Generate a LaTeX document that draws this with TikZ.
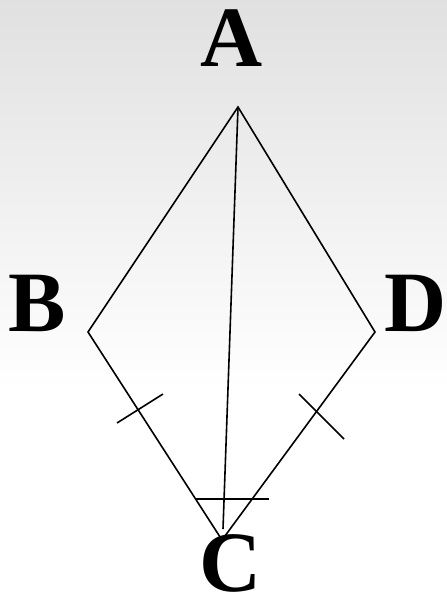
\documentclass[tikz,border=0pt]{standalone}
\usepackage{fontspec}
\setmainfont{Liberation Serif}
\begin{document}
\begin{tikzpicture}[x=1pt,y=-1pt,
  edge/.style={line width=1.6pt,black},
  lbl/.style={font=\fontsize{86}{86}\selectfont\bfseries,inner sep=0pt,anchor=base}]
\useasboundingbox (0,0) rectangle (447,600);
\shade[top color=black!12,bottom color=white] (0,0) rectangle (447,390);
\fill[white] (0,390) rectangle (447,600);
\coordinate (A) at (238,107);
\coordinate (B) at (88,332);
\coordinate (C) at (222,540);
\coordinate (D) at (375,332);
\coordinate (Cend) at (223,529);
\coordinate (t1a) at (117,423);
\coordinate (t1b) at (163,394);
\coordinate (t2a) at (299,394);
\coordinate (t2b) at (344,439);
\coordinate (h1) at (195,499);
\coordinate (h2) at (269,499);
\draw[edge,line join=miter] (A) -- (B) -- (C) -- (D) -- cycle;
\draw[edge] (A) -- (Cend);
\draw[edge] (t1a) -- (t1b);
\draw[edge] (t2a) -- (t2b);
\draw[edge] (h1) -- (h2);
\node[lbl] (lA) at (232,66) {A};
\node[lbl] (lB) at (37,331) {B};
\node[lbl] (lD) at (416,331) {D};
\node[lbl] (lC) at (231,591) {C};
\end{tikzpicture}
\end{document}
